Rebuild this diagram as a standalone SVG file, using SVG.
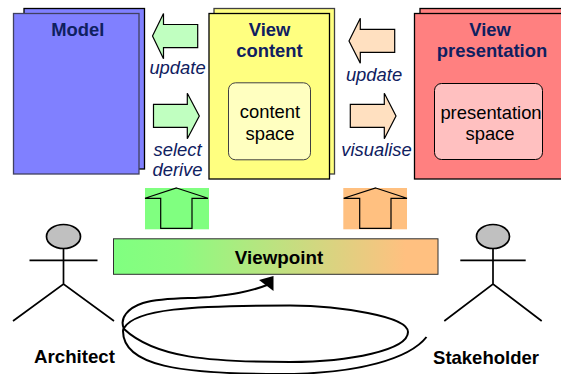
<svg xmlns="http://www.w3.org/2000/svg" width="561" height="374" viewBox="0 0 561 374">
<style>
text{font-family:"Liberation Sans",Arial,sans-serif;font-size:18.400px;text-anchor:middle}
.t{font-weight:bold;fill:#0f2060}
.l{font-style:italic;fill:#0f2060}
.s{fill:#000}
.a{font-weight:bold;fill:#000}
.box{stroke:#000;stroke-width:1.3}
.in{stroke:#000;stroke-width:1}
.ar{stroke:#000;stroke-width:1.2}
.fig{fill:none;stroke:#000;stroke-width:1.700}
.head{fill:#c0c0c0;stroke:#000;stroke-width:1.700}
</style>
<defs>
<linearGradient id="vp" x1="0" x2="1" y1="0" y2="0"><stop offset="0" stop-color="#80ff80"/><stop offset="0.2" stop-color="#8cfb80"/><stop offset="0.9" stop-color="#ffc080"/><stop offset="1" stop-color="#ffc080"/></linearGradient>
</defs>
<g id="model">
<rect class="box" x="24" y="8.500" width="120.500" height="160.500" fill="#8080ff"/>
<rect x="13.500" y="13.500" width="125.500" height="160.500" fill="#8080ff" stroke="#404060" stroke-width="1.300"/>
<text class="t" x="77.700" y="35.700">Model</text>
</g>
<g id="view-content">
<rect x="214" y="8.500" width="120.500" height="165.500" fill="#ffff80" stroke="#404040" stroke-width="1.300"/>
<rect class="box" x="209" y="13.500" width="120.500" height="165.500" fill="#ffff80"/>
<text class="t" x="269.500" y="36">View</text>
<text class="t" x="269.500" y="57">content</text>
<g id="content-space">
<rect x="228.500" y="82.800" width="82" height="77" rx="7" fill="#ffffc0" stroke="#404040"/>
<text class="s" x="270" y="118">content</text>
<text class="s" x="270" y="140">space</text>
</g>
</g>
<g id="view-presentation">
<rect class="box" x="420" y="8.500" width="150" height="165.500" fill="#ff8080"/>
<rect class="box" x="414.500" y="13.500" width="156" height="165.500" fill="#ff8080"/>
<text class="t" x="490" y="36">View</text>
<text class="t" x="492" y="57">presentation</text>
<g id="presentation-space">
<rect class="in" x="434.500" y="83.500" width="108" height="76" rx="7" fill="#ffc0c0"/>
<text class="s" x="491" y="119">presentation</text>
<text class="s" x="490" y="140">space</text>
</g>
</g>
<g id="connectors">
<polygon class="ar" fill="#c0ffc0" points="152.500,36 163.500,13.500 163.500,24.500 197.700,24.500 197.700,47.700 163.500,47.700 163.500,58.700"/>
<polygon class="ar" fill="#c0ffc0" points="153.500,104.300 187.300,104.300 187.300,93.300 199.300,116 187.300,138.700 187.300,127.300 153.500,127.300"/>
<polygon class="ar" fill="#ffe0c0" points="349,41 360.300,18.300 360.300,29.300 394.700,29.300 394.700,52.300 360.300,52.300 360.300,63.300"/>
<polygon class="ar" fill="#ffe0c0" points="350.300,104.300 384.300,104.300 384.300,93.300 396,116 384.300,138.700 384.300,127.300 350.300,127.300"/>
<rect x="145" y="188" width="64" height="41.300" fill="#80ff80"/>
<polygon class="ar" fill="#80ff80" points="176.500,188 208,198.300 192,198.300 192,228.300 160.700,228.300 160.700,198.300 145,198.300"/>
<rect x="343.300" y="188" width="63.700" height="41.300" fill="#ffc080"/>
<polygon class="ar" fill="#ffc080" points="375.700,188 407,198.300 391,198.300 391,228.300 359.700,228.300 359.700,198.300 343.700,198.300"/>
<path d="M426.500,337 C410,358 360,374 280,374 C180,374 123,366 123,331 C123,329 123.500,328.500 124,328 C135,309 190,305.500 290,305.500 C340,306 408,316 408,332 C408,350 350,362 290,362 C210,362 155,358 124,329 C119,318 128,308 143,303 C165,297 190,299 210,297 C230,294.500 250,292 267,285" fill="none" stroke="#000" stroke-width="2"/>
<polygon points="273.500,276 259,280 273.500,291" fill="#000"/>
</g>
<g id="viewpoint">
<rect x="113.500" y="238.800" width="324.500" height="35.500" fill="url(#vp)" stroke="#303030" stroke-width="1"/>
<text class="a" x="279" y="264" style="font-size:18.800px">Viewpoint</text>
</g>
<g id="architect">
<ellipse class="head" cx="63.500" cy="236.500" rx="17" ry="12"/>
<path class="fig" d="M63.500,248.500V284M29.500,260.300H97.500M13,321L63.500,284L114,321"/>
<text class="a" x="74.500" y="363" style="font-size:18.700px">Architect</text>
</g>
<g id="stakeholder">
<ellipse class="head" cx="493" cy="236.500" rx="16.500" ry="12"/>
<path class="fig" d="M493,248.500V284M460.300,260.300H525.700M444.300,321L493,284L541.700,321"/>
<text class="a" x="486" y="364" style="font-size:18.500px">Stakeholder</text>
</g>
<g id="labels">
<text class="l" x="177.500" y="74">update</text>
<text class="l" x="177.500" y="156">select</text>
<text class="l" x="177.500" y="176">derive</text>
<text class="l" x="374" y="81">update</text>
<text class="l" x="376.500" y="156">visualise</text>
</g>
</svg>
